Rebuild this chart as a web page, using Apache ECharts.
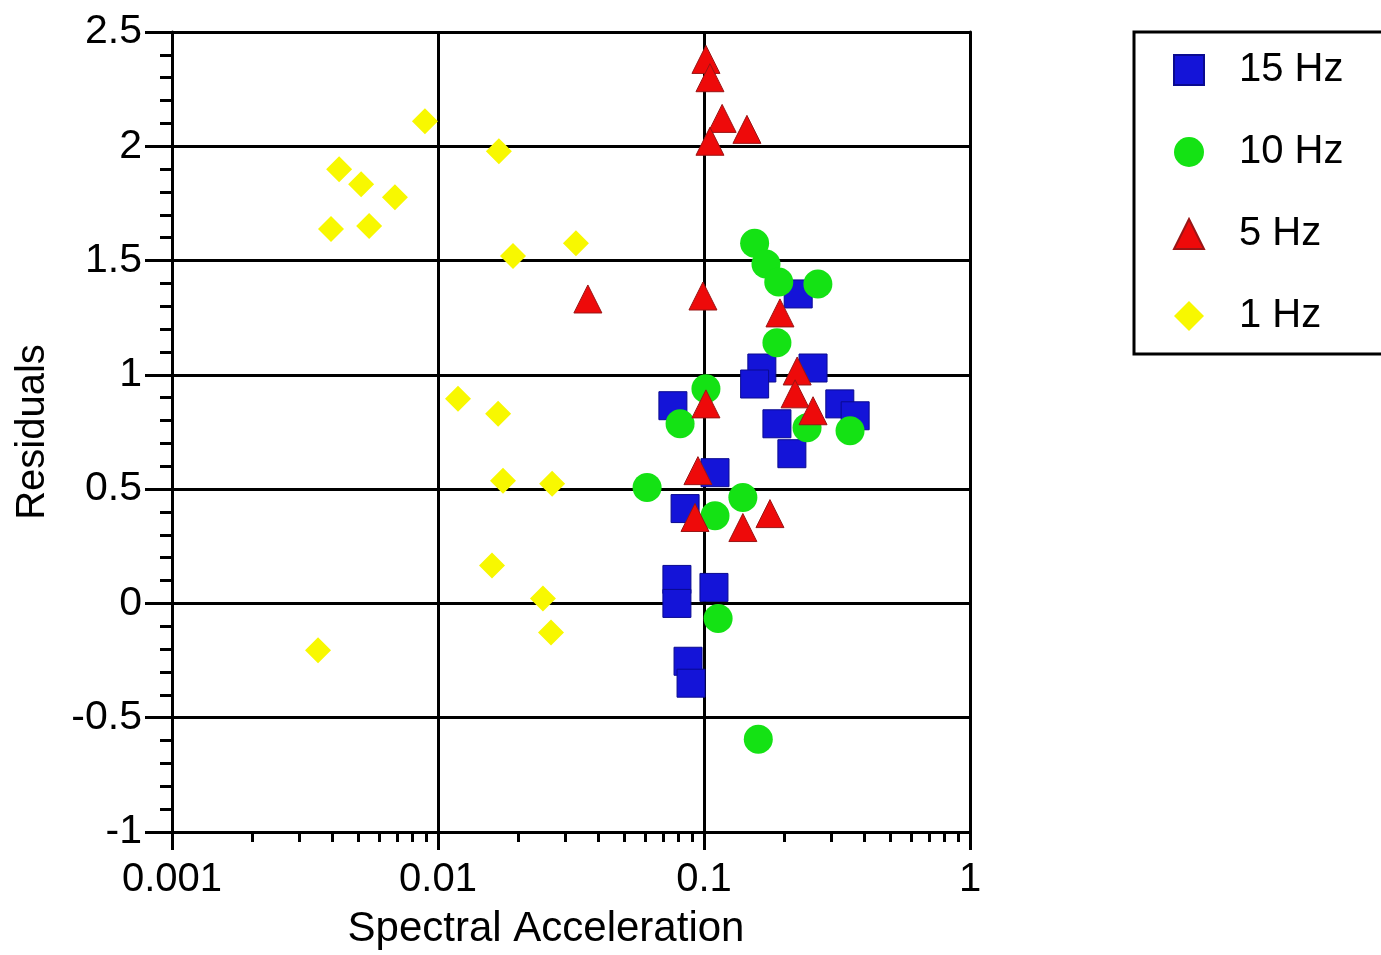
<!DOCTYPE html>
<html>
<head>
<meta charset="utf-8">
<script src="https://cdn.jsdelivr.net/npm/echarts@6/dist/echarts.min.js"></script>
<style>
  html, body { margin: 0; padding: 0; background: #fff; }
  #main { width: 1381px; height: 955px; }
</style>
</head>
<body>
<div id="main"></div>
<script>
// valores [aceleración espectral, residuo]
var hz15 = [
  [0.165, 1.03], [0.155, 0.96], [0.257, 1.03], [0.0764, 0.865], [0.324, 0.873],
  [0.370, 0.821], [0.188, 0.786], [0.214, 0.655], [0.110, 0.572], [0.0849, 0.415],
  [0.0791, 0.105], [0.0791, 0.0], [0.109, 0.07], [0.0871, -0.253], [0.0894, -0.349],
  [0.226, 1.354]
];
var hz10 = [
  [0.155, 1.576], [0.171, 1.485], [0.191, 1.406], [0.268, 1.397], [0.188, 1.14],
  [0.1017, 0.939], [0.0813, 0.786], [0.244, 0.769], [0.354, 0.755], [0.0611, 0.507],
  [0.140, 0.463], [0.110, 0.384], [0.113, -0.066], [0.160, -0.594]
];
var hz5 = [
  [0.1017, 2.38], [0.1053, 2.30], [0.117, 2.122], [0.145, 2.074], [0.1053, 2.022],
  [0.0991, 1.345], [0.193, 1.271], [0.0366, 1.332], [0.224, 1.017], [0.220, 0.917],
  [0.257, 0.843], [0.1017, 0.873], [0.0949, 0.581], [0.0925, 0.376], [0.140, 0.332],
  [0.177, 0.393]
];
var hz1 = [
  [0.00893, 2.109], [0.01694, 1.978], [0.00425, 1.90], [0.00514, 1.834], [0.00689, 1.777],
  [0.00396, 1.638], [0.00551, 1.651], [0.0330, 1.576], [0.01914, 1.52], [0.01189, 0.895],
  [0.01683, 0.83], [0.01755, 0.537], [0.02685, 0.524], [0.01596, 0.166], [0.0248, 0.022],
  [0.0266, -0.127], [0.00354, -0.205]
];
var seriesNames = ['15 Hz', '10 Hz', '5 Hz', '1 Hz'];
var xTickLabels = ['0.001', '0.01', '0.1', '1'];
var xMinorTicks = [
  0.002, 0.003, 0.004, 0.005, 0.006, 0.007, 0.008, 0.009,
  0.02, 0.03, 0.04, 0.05, 0.06, 0.07, 0.08, 0.09,
  0.2, 0.3, 0.4, 0.5, 0.6, 0.7, 0.8, 0.9
];

var font = 'Liberation Sans, Arial, sans-serif';
var black = '#000';

var myChart = echarts.init(document.getElementById('main'));

var option = {
  backgroundColor: '#fff',
  animation: false,
  grid: { left: 172, right: 411, top: 32, bottom: 123, containLabel: false, outerBoundsMode: 'none' },
  legend: {
    orient: 'vertical',
    left: 1134,
    top: 32,
    padding: [18, 200, 18, 39],
    itemWidth: 30,
    itemHeight: 30,
    itemGap: 42,
    borderColor: black,
    borderWidth: 3,
    textStyle: { fontFamily: font, fontSize: 40, color: black, padding: [0, 0, 0, 30] },
    data: seriesNames
  },
  xAxis: [
    {
      type: 'log', min: 0.001, max: 1, logBase: 10,
      position: 'bottom',
      name: 'Spectral Acceleration',
      nameLocation: 'middle',
      nameGap: 76,
      nameTextStyle: { fontFamily: font, fontSize: 42, color: black, padding: [0, 50, 0, 0] },
      axisLine: { onZero: false, lineStyle: { color: black, width: 3 } },
      axisTick: { length: 18, lineStyle: { color: black, width: 3 } },
      axisLabel: {
        margin: 28, fontFamily: font, fontSize: 40, color: black,
        formatter: function (v) {
          var i = Math.round(Math.log10(v)) + 3;
          return xTickLabels[i] !== undefined ? xTickLabels[i] : '';
        }
      },
      splitLine: { show: true, lineStyle: { color: black, width: 3 } },
      minorTick: { show: false }
    },
    {
      type: 'log', min: 0.001, max: 1, logBase: 10,
      position: 'bottom',
      axisLine: { show: false, onZero: false },
      axisTick: { show: true, length: 10, customValues: xMinorTicks, lineStyle: { color: black, width: 3 } },
      axisLabel: { show: false },
      splitLine: { show: false }
    },
    {
      type: 'log', min: 0.001, max: 1, logBase: 10,
      position: 'top',
      axisLine: { show: true, onZero: false, lineStyle: { color: black, width: 3 } },
      axisTick: { show: false },
      axisLabel: { show: false },
      splitLine: { show: false }
    }
  ],
  yAxis: [
    {
      type: 'value', min: -1, max: 2.5, interval: 0.5,
      name: 'Residuals',
      nameLocation: 'middle',
      nameGap: 119,
      nameTextStyle: { fontFamily: font, fontSize: 40, color: black },
      axisLine: { show: true, onZero: false, lineStyle: { color: black, width: 3 } },
      axisTick: { show: true, length: 27, lineStyle: { color: black, width: 3 } },
      minorTick: { show: true, splitNumber: 5, length: 12, lineStyle: { color: black, width: 3 } },
      axisLabel: { margin: 30, fontFamily: font, fontSize: 41, color: black },
      splitLine: { show: true, lineStyle: { color: black, width: 3 } }
    },
    {
      type: 'value', min: -1, max: 2.5, interval: 0.5,
      position: 'right',
      axisLine: { show: true, onZero: false, lineStyle: { color: black, width: 3 } },
      axisTick: { show: false },
      axisLabel: { show: false },
      splitLine: { show: false }
    }
  ],
  series: [
    {
      name: seriesNames[0], type: 'scatter', z: 3,
      symbol: 'rect', symbolSize: 28,
      itemStyle: { color: '#1414d8', borderColor: '#0a0a90', borderWidth: 1, opacity: 1 },
      data: hz15
    },
    {
      name: seriesNames[1], type: 'scatter', z: 4,
      symbol: 'circle', symbolSize: 29,
      itemStyle: { color: '#14e214', opacity: 1 },
      data: hz10
    },
    {
      name: seriesNames[2], type: 'scatter', z: 5,
      symbol: 'triangle', symbolSize: 28,
      itemStyle: { color: '#ee0a0a', borderColor: '#9a1515', borderWidth: 1, opacity: 1 },
      data: hz5
    },
    {
      name: seriesNames[3], type: 'scatter', z: 2,
      symbol: 'diamond', symbolSize: 26,
      itemStyle: { color: '#f8f800', opacity: 1 },
      data: hz1
    }
  ]
};

myChart.setOption(option);
</script>
</body>
</html>
